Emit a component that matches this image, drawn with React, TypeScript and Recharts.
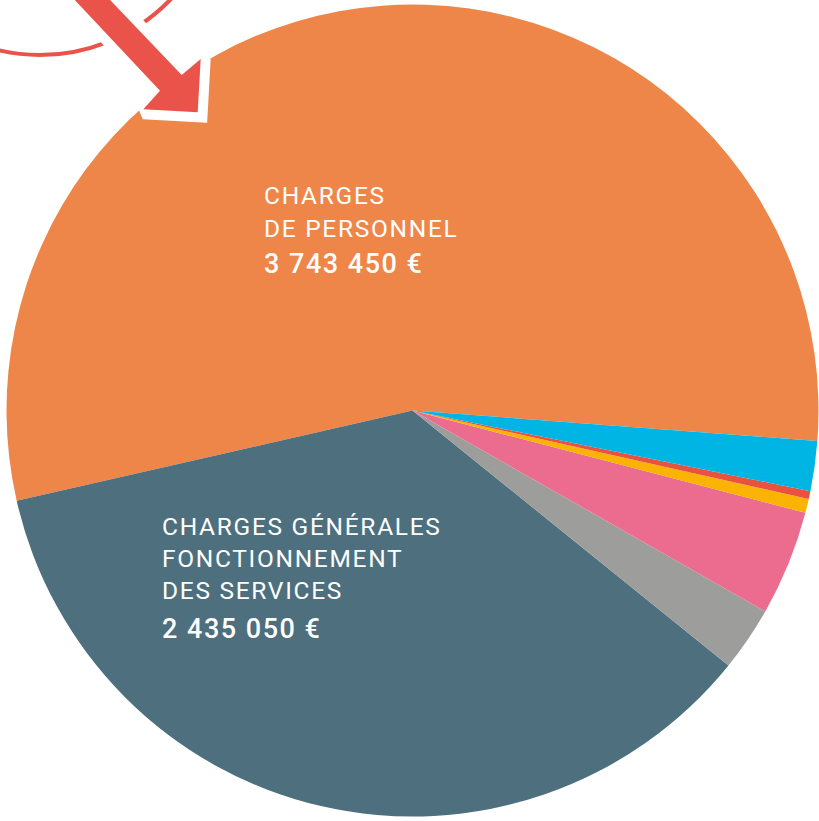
import { Cell, Pie, PieChart } from 'recharts'

const categories = [
  'Charges de personnel',
  'Charges générales fonctionnement des services',
  'Poste gris',
  'Poste rose',
  'Poste jaune',
  'Poste rouge',
  'Poste bleu',
]
const amounts = [3743450, 2435050, 175500, 286000, 38000, 21500, 136000]
const colors = ['#EF8649', '#4D6F7E', '#9D9D9C', '#EC6C8F', '#F9B300', '#E8523F', '#00B5E3']

const labelLines = [
  ['CHARGES', 'DE PERSONNEL'],
  ['CHARGES GÉNÉRALES', 'FONCTIONNEMENT', 'DES SERVICES'],
]

const W = 819
const H = 821

const data = categories.map((name, i) => ({ name, value: amounts[i] }))

function euros(n: number) {
  return String(n).replace(/\B(?=(\d{3})+(?!\d))/g, ' ') + ' €'
}

// arrow pointing at the personnel slice
const arrowPts = '56,-20 91,-20 181.7,75 200.7,59 197.7,112.3 143.3,109.3 160,90.7'

function SliceLabel({ x, baselines, lines, value }: { x: number; baselines: number[]; lines: string[]; value: number }) {
  return (
    <g fill="#ffffff" fontFamily="Roboto, sans-serif">
      {lines.map((t, i) => (
        <text key={t} x={x} y={baselines[i]} fontSize={24.5} fontWeight={400} letterSpacing={1.7}>
          {t}
        </text>
      ))}
      <text x={x} y={baselines[lines.length]} fontSize={27} fontWeight={500} letterSpacing={1.5}>
        {euros(value)}
      </text>
    </g>
  )
}

export default function App() {
  return (
    <div style={{ position: 'absolute', left: 0, top: 0, width: W, height: H, background: '#fff' }}>
      <PieChart width={W} height={H} margin={{ top: 0, right: 0, bottom: 0, left: 0 }}>
        <Pie
          data={data}
          dataKey="value"
          nameKey="name"
          cx={412.5}
          cy={410.5}
          outerRadius={406}
          innerRadius={0}
          startAngle={-4.3}
          endAngle={355.7}
          stroke="none"
          isAnimationActive={false}
        >
          {data.map((d, i) => (
            <Cell key={d.name} fill={colors[i]} stroke="none" />
          ))}
        </Pie>
      </PieChart>
      <svg
        width={W}
        height={H}
        style={{ position: 'absolute', left: 0, top: 0, pointerEvents: 'none' }}
      >
        <circle cx={40} cy={-126} r={181} fill="none" stroke="#E9534A" strokeWidth={4} />
        <polygon points={arrowPts} fill="#ffffff" stroke="#ffffff" strokeWidth={20} strokeLinejoin="miter" strokeMiterlimit={2} />
        <polygon points={arrowPts} fill="#E9534A" />
        <SliceLabel x={264} baselines={[204, 237, 273]} lines={labelLines[0]} value={amounts[0]} />
        <SliceLabel x={162} baselines={[535, 567, 599, 638]} lines={labelLines[1]} value={amounts[1]} />
      </svg>
    </div>
  )
}
